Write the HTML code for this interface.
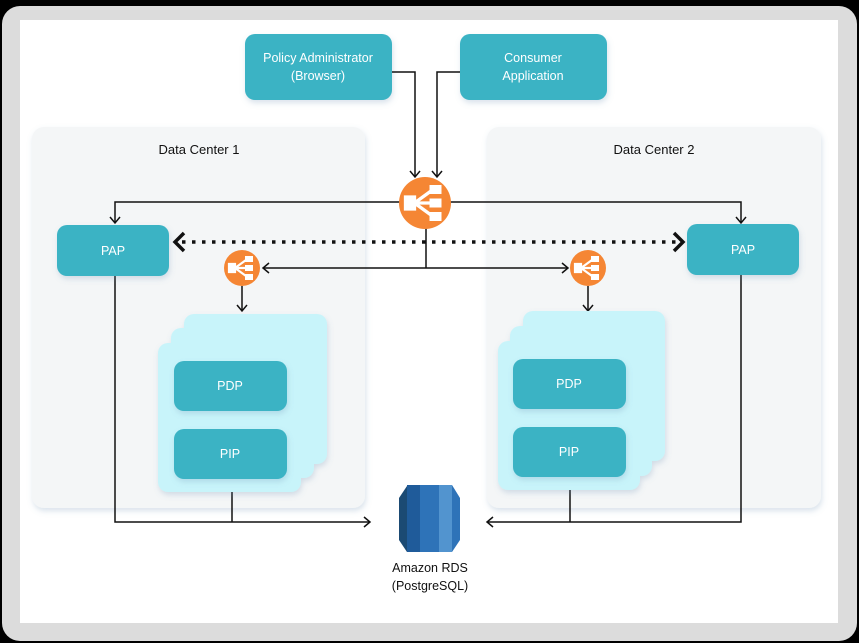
<!DOCTYPE html>
<html><head><style>
html,body{margin:0;padding:0;background:#000;}
svg{display:block;font-family:"Liberation Sans",sans-serif;}
</style></head><body>
<svg width="859" height="643" viewBox="0 0 859 643" xmlns="http://www.w3.org/2000/svg">
<defs>
<filter id="sh" x="-20%" y="-20%" width="140%" height="150%"><feDropShadow dx="1" dy="3" stdDeviation="3" flood-color="#6a8bb0" flood-opacity="0.25"/></filter>
<marker id="ar" markerWidth="12" markerHeight="12" refX="9" refY="6" orient="auto" markerUnits="userSpaceOnUse"><path d="M3,1 L9,6 L3,11" fill="none" stroke="#111" stroke-width="1.5"/></marker>
<marker id="big" markerWidth="16" markerHeight="24" refX="12" refY="12" orient="auto" markerUnits="userSpaceOnUse"><path d="M3,3 L12,12 L3,21" fill="none" stroke="#111" stroke-width="3.5"/></marker>
<g id="lb"><path d="M-13,-4 h6 v8 h-6z M-7,0 L4,-8 M-7,0 L4,0 M-7,0 L4,8" stroke="#fff" stroke-width="2.2" fill="#fff"/><rect x="3" y="-12" width="8" height="6" fill="#fff"/><rect x="3" y="-3" width="8" height="6" fill="#fff"/><rect x="3" y="6" width="8" height="6" fill="#fff"/></g>
</defs>
<rect x="0" y="0" width="859" height="643" fill="#000"/>
<rect x="2" y="6" width="855" height="635" rx="18" fill="#dcdcdc"/>
<rect x="20" y="20" width="818" height="603" fill="#fff"/>
<!-- DCs -->
<rect x="32" y="127" width="333" height="381" rx="12" fill="#f4f6f7" filter="url(#sh)"/>
<rect x="487" y="127" width="334" height="381" rx="12" fill="#f4f6f7" filter="url(#sh)"/>
<text x="199" y="154" font-size="13" text-anchor="middle" fill="#111">Data Center 1</text>
<text x="654" y="154" font-size="13" text-anchor="middle" fill="#111">Data Center 2</text>
<!-- top boxes -->
<rect x="245" y="34" width="147" height="66" rx="10" fill="#3ab3c4" filter="url(#sh)"/>
<text x="318" y="62" font-size="12.5" text-anchor="middle" fill="#fff">Policy Administrator</text>
<text x="318" y="80" font-size="12.5" text-anchor="middle" fill="#fff">(Browser)</text>
<rect x="460" y="34" width="147" height="66" rx="10" fill="#3ab3c4" filter="url(#sh)"/>
<text x="533" y="62" font-size="12.5" text-anchor="middle" fill="#fff">Consumer</text>
<text x="533" y="80" font-size="12.5" text-anchor="middle" fill="#fff">Application</text>
<!-- lines -->
<g fill="none" stroke="#111" stroke-width="1.5">
<path d="M392,72 H415 V177" marker-end="url(#ar)"/>
<path d="M460,72 H437 V177" marker-end="url(#ar)"/>
<path d="M400,202 H115 V223" marker-end="url(#ar)"/>
<path d="M450,202 H741 V223" marker-end="url(#ar)"/>
<path d="M426,228 V268"/>
<path d="M426,268 H263" marker-end="url(#ar)"/>
<path d="M426,268 H568" marker-end="url(#ar)"/>
<path d="M242,286 V311" marker-end="url(#ar)"/>
<path d="M588,286 V311" marker-end="url(#ar)"/>
<path d="M115,276 V522 H370" marker-end="url(#ar)"/>
<path d="M232,492 V522"/>
<path d="M741,274 V522 H487" marker-end="url(#ar)"/>
<path d="M570,490 V522"/>
</g>
<path d="M182,242 H676" stroke="#111" stroke-width="3.5" stroke-dasharray="3.5,6.5" fill="none"/>
<path d="M184,233 L175,242 L184,251" stroke="#111" stroke-width="3.5" fill="none"/>
<path d="M674,233 L683,242 L674,251" stroke="#111" stroke-width="3.5" fill="none"/>
<!-- PAP -->
<rect x="57" y="225" width="112" height="51" rx="10" fill="#3ab3c4" filter="url(#sh)"/>
<text x="113" y="255" font-size="12.5" text-anchor="middle" fill="#fff">PAP</text>
<rect x="687" y="224" width="112" height="51" rx="10" fill="#3ab3c4" filter="url(#sh)"/>
<text x="743" y="254" font-size="12.5" text-anchor="middle" fill="#fff">PAP</text>
<!-- LBs -->
<circle cx="425" cy="203" r="26" fill="#f58634"/>
<g transform="translate(425,203) scale(1.5)"><use href="#lb"/></g>
<circle cx="242" cy="268" r="18" fill="#f58634"/>
<g transform="translate(242,268)"><use href="#lb"/></g>
<circle cx="588" cy="268" r="18" fill="#f58634"/>
<g transform="translate(588,268)"><use href="#lb"/></g>
<!-- stacks -->
<g filter="url(#sh)">
<rect x="184" y="314" width="143" height="150" rx="10" fill="#c8f4fa"/>
<rect x="171" y="328" width="143" height="150" rx="10" fill="#c8f4fa"/>
<rect x="158" y="343" width="143" height="149" rx="10" fill="#c8f4fa"/>
<rect x="523" y="311" width="142" height="150" rx="10" fill="#c8f4fa"/>
<rect x="510" y="326" width="142" height="150" rx="10" fill="#c8f4fa"/>
<rect x="498" y="341" width="142" height="149" rx="10" fill="#c8f4fa"/>
</g>
<rect x="174" y="361" width="113" height="50" rx="10" fill="#3ab3c4" filter="url(#sh)"/>
<text x="230" y="390" font-size="12.5" text-anchor="middle" fill="#fff">PDP</text>
<rect x="174" y="429" width="113" height="50" rx="10" fill="#3ab3c4" filter="url(#sh)"/>
<text x="230" y="458" font-size="12.5" text-anchor="middle" fill="#fff">PIP</text>
<rect x="513" y="359" width="113" height="50" rx="10" fill="#3ab3c4" filter="url(#sh)"/>
<text x="569" y="388" font-size="12.5" text-anchor="middle" fill="#fff">PDP</text>
<rect x="513" y="427" width="113" height="50" rx="10" fill="#3ab3c4" filter="url(#sh)"/>
<text x="569" y="456" font-size="12.5" text-anchor="middle" fill="#fff">PIP</text>
<!-- RDS -->
<g>
<path d="M407,486 L413,485 V552 L407,552 L399,540 V498 Z" fill="#1b4a73"/>
<rect x="407" y="485" width="13" height="67" fill="#1f5b9a"/>
<rect x="420" y="485" width="19" height="67" fill="#2e73b8"/>
<rect x="439" y="485" width="13" height="67" fill="#5294cf"/>
<path d="M452,485 L460,498 V540 L452,552 Z" fill="#2e73b8"/>
</g>
<text x="430" y="572" font-size="12.5" text-anchor="middle" fill="#111">Amazon RDS</text>
<text x="430" y="590" font-size="12.5" text-anchor="middle" fill="#111">(PostgreSQL)</text>
</svg>
</body></html>
